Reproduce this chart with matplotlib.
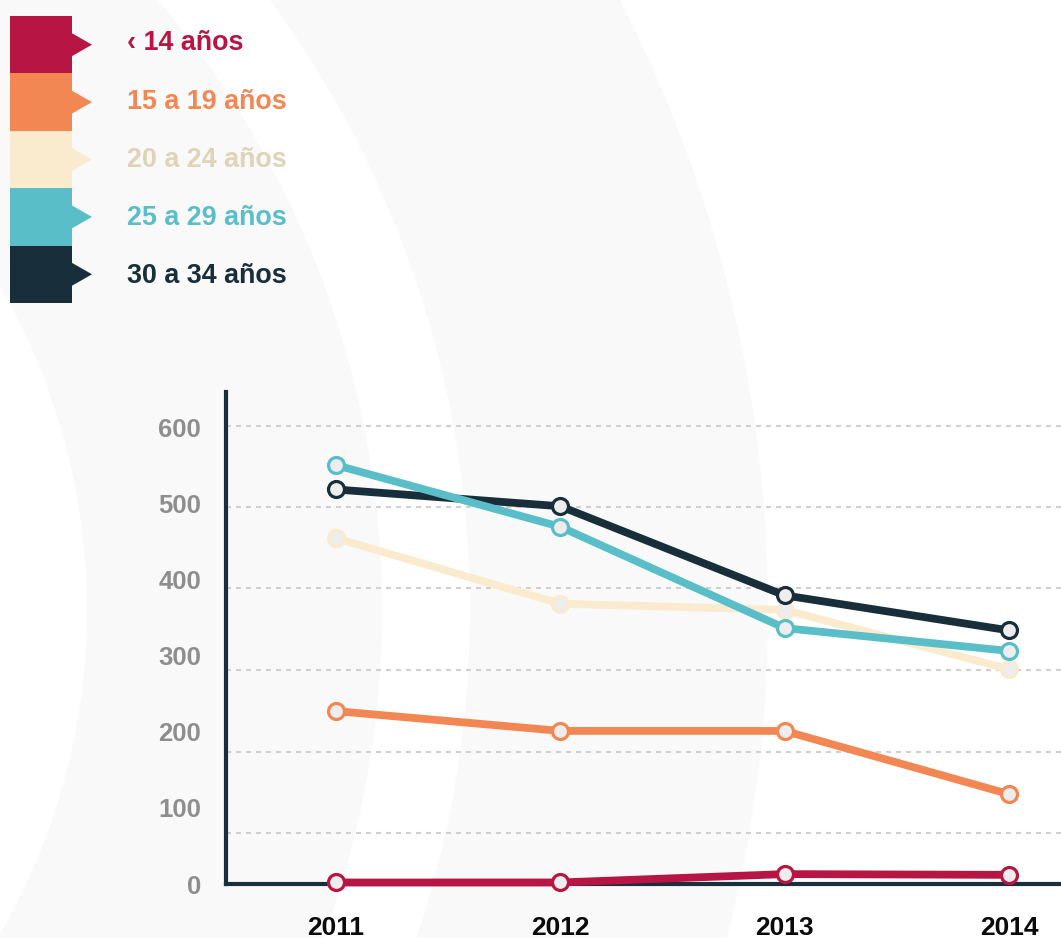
import matplotlib.pyplot as plt
from matplotlib.patches import Circle, Rectangle, Polygon

plt.rcParams['font.family'] = ['Liberation Sans', 'DejaVu Sans']

# datos
years = [2011, 2012, 2013, 2014]
labels = ['‹ 14 años', '15 a 19 años', '20 a 24 años', '25 a 29 años', '30 a 34 años']
menor_14 = [2, 2, 13, 12]
de_15_19 = [227, 201, 201, 118]
de_20_24 = [454, 368, 360, 282]
de_25_29 = [550, 469, 336, 306]
de_30_34 = [518, 496, 379, 333]
y_ticks = [0, 100, 200, 300, 400, 500, 600]
grid_levels = [67, 173, 281, 388, 495, 602]

series = [menor_14, de_15_19, de_20_24, de_25_29, de_30_34]
line_colors = ['#b71645', '#f38753', '#faebcf', '#5abec9', '#182e3b']
text_colors = ['#b71645', '#f38753', '#e0d3b8', '#5abec9', '#182e3b']
zorders = [7, 4, 3, 6, 5]

W, H = 1061, 938
fig = plt.figure(figsize=(W / 100, H / 100), dpi=100)

# fondo: anillos grises muy suaves
bg = fig.add_axes([0, 0, 1, 1], zorder=0)
bg.set_xlim(0, W)
bg.set_ylim(H, 0)
bg.axis('off')
for r, c in [(1328, '#f9f9f9'), (1030, 'white'), (942, '#f9f9f9'), (647, 'white')]:
    bg.add_patch(Circle((-560, 610), r, color=c, lw=0))

# leyenda con banderas
top, h = 16, 57.4
for i, (lab, col, tcol) in enumerate(zip(labels, line_colors, text_colors)):
    y0 = top + i * h
    cy = y0 + h / 2
    bg.add_patch(Rectangle((10, y0), 62, h, color=col, lw=0))
    bg.add_patch(Polygon([(71, cy - 12), (92, cy), (71, cy + 12)], closed=True, color=col, lw=0))
    bg.text(127, 43.5 + i * 58.2, lab, color=tcol, fontsize=19.4, fontweight='bold',
            va='center', ha='left')

# grafico principal
ax = fig.add_axes([226 / W, 1 - 884 / H, 1 - 226 / W, (884 - 392) / H], zorder=1)
ax.patch.set_alpha(0)
ax.set_xlim(2010.51, 2014.232)
ax.set_ylim(0, 646)

for lv in grid_levels:
    ax.axhline(lv, color='#d0d0d0', lw=1.5, ls=(0, (2.4, 2.4)), zorder=1)

for vals, col, z in zip(series, line_colors, zorders):
    ax.plot(years, vals, color=col, lw=5.6, marker='o', markersize=11.5,
            markerfacecolor='#ededed', markeredgecolor=col, markeredgewidth=2.3,
            solid_joinstyle='round', clip_on=False, zorder=z)

for side in ['top', 'right']:
    ax.spines[side].set_visible(False)
for side in ['left', 'bottom']:
    ax.spines[side].set_color('#1b2e3b')
    ax.spines[side].set_linewidth(3)
    ax.spines[side].set_zorder(2)

ax.set_yticks(y_ticks)
ax.set_yticklabels([str(v) for v in y_ticks])
ax.set_xticks(years)
ax.set_xticklabels([str(y) for y in years])
ax.tick_params(axis='y', length=0, pad=18, labelsize=18.5, labelcolor='#8e8e8e')
ax.tick_params(axis='x', length=0, pad=23, labelsize=19, labelcolor='#0a0a0a')
for t in ax.get_xticklabels() + ax.get_yticklabels():
    t.set_fontweight('bold')

fig.savefig('out.png', dpi=100)
